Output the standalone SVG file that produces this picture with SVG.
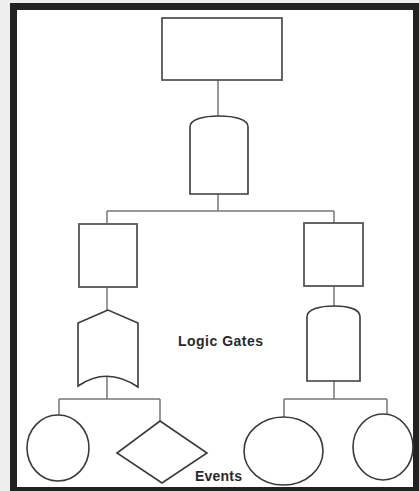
<svg xmlns="http://www.w3.org/2000/svg" width="419" height="491" viewBox="0 0 419 491">
<style>
.shape{fill:#ffffff;stroke:#3a3a3a;stroke-width:1.6}
.box{fill:#ffffff;stroke:#555555;stroke-width:1.8}
.conn{fill:none;stroke:#777777;stroke-width:1.5}
.lbl{font-family:"Liberation Sans",Arial,sans-serif;font-weight:bold;font-size:14px;fill:#2a2a2a}
</style>
<rect x="0" y="0" width="419" height="491" fill="#eeeeee"/>
<rect x="10" y="3" width="409" height="488" fill="#222222"/>
<rect x="17" y="10" width="396" height="477" fill="#ffffff"/>
<g id="connectors">
<path class="conn" d="M218,80 V116"/>
<path class="conn" d="M218,194 V211 M107,211 H334 M107,211 V223 M334,211 V223"/>
<path class="conn" d="M107,287 V310"/>
<path class="conn" d="M334,286 V306"/>
<path class="conn" d="M107,377 V399 M59,399 H160 M59,399 V415 M160,399 V421"/>
<path class="conn" d="M334,381 V399 M284,399 H387 M284,399 V417 M387,399 V414"/>
</g>
<g id="top-event"><rect class="box" x="162" y="18" width="120" height="62"/></g>
<g id="and-gate-top"><path class="shape" d="M190,194 V127 C190,119 204,116 219,116 C234,116 248,119 248,127 V194 Z"/></g>
<g id="left-event"><rect class="box" x="79" y="224" width="58" height="63"/></g>
<g id="right-event"><rect class="box" x="304" y="223" width="59" height="63"/></g>
<g id="or-gate"><path class="shape" d="M108,310 L78,323 V386 Q107,366 138,387 V323 Z"/></g>
<g id="and-gate-right"><path class="shape" d="M307,381 V317 C307,309 320,306 334,306 C348,306 360,309 360,317 V381 Z"/></g>
<g id="circle-left"><ellipse class="shape" cx="58" cy="448" rx="31" ry="33"/></g>
<g id="diamond"><path class="shape" d="M160,421 L207,453 L162,483 L117,453 Z"/></g>
<g id="ellipse-mid"><ellipse class="shape" cx="283.5" cy="451" rx="39.5" ry="34"/></g>
<g id="circle-right"><ellipse class="shape" cx="383" cy="447" rx="30" ry="33"/></g>
<text class="lbl" x="178" y="346" textLength="85">Logic Gates</text>
<text class="lbl" x="195" y="481" textLength="47">Events</text>
</svg>
